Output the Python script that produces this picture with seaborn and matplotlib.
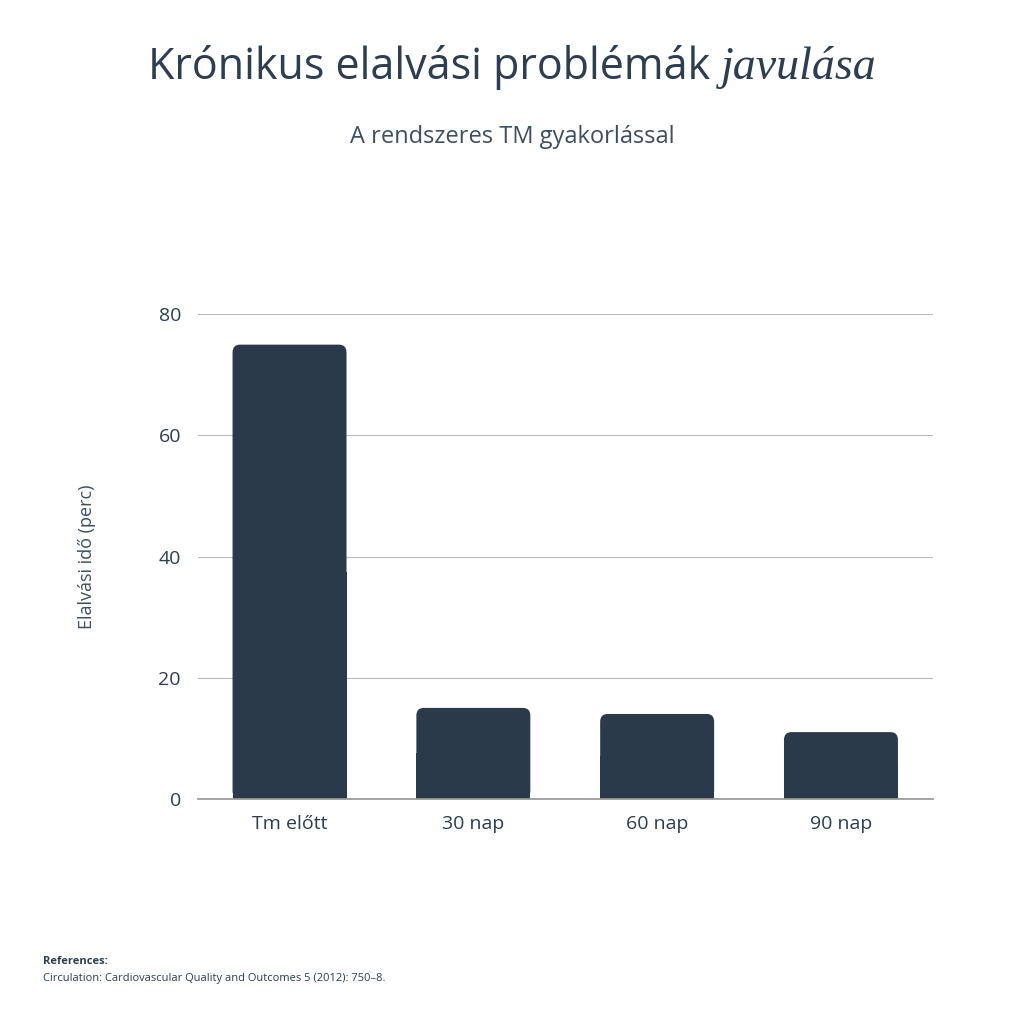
import matplotlib
matplotlib.use("Agg")
import matplotlib.pyplot as plt
import seaborn as sns
from matplotlib.patches import FancyBboxPatch

sns.set_theme(style="white")
plt.rcParams['font.family'] = ['Open Sans', 'DejaVu Sans']

categories = ["Tm előtt", "30 nap", "60 nap", "90 nap"]
values = [75, 15, 14, 11]
dark = "#2a3a4b"
textc = "#2c3e50"

fig = plt.figure(figsize=(10.24, 10.24), dpi=100)
ax = fig.add_axes([0.193, 0.22, 0.718, 0.473])
sns.barplot(x=categories, y=values, color=dark, width=0.62, saturation=1, ax=ax)

# rounded top corners
for p in list(ax.patches):
    x, y, w, h = p.get_x(), p.get_y(), p.get_width(), p.get_height()
    p.set_visible(False)
    r = FancyBboxPatch((x, y), w, h, boxstyle="round,pad=0,rounding_size=0.04",
                       mutation_aspect=80 / 4 * 1.6, fc=dark, ec="none")
    ax.add_patch(r)
    ax.add_patch(plt.Rectangle((x, y), w, h * 0.5, fc=dark, ec="none"))

ax.set_ylim(0, 80)
ax.set_yticks([0, 20, 40, 60, 80])
ax.yaxis.grid(True, color="#bbbbbb", lw=0.8)
ax.set_axisbelow(True)
for s in ["top", "right", "left"]:
    ax.spines[s].set_visible(False)
ax.spines["bottom"].set_color("#999999")
ax.tick_params(axis="both", labelsize=14, colors=textc, length=0, pad=12)
ax.set_ylabel("Elalvási idő (perc)", fontsize=13, color="#3d4f60", labelpad=45)

# title with italic serif word
t1 = fig.text(0, 0.923, "Krónikus elalvási problémák ", fontsize=31, color=textc, va="baseline")
t2 = fig.text(0, 0.923, "javulása", fontsize=33, color=textc, va="baseline",
              family="Liberation Serif", style="italic")
fig.canvas.draw()
r = fig.canvas.get_renderer()
w1 = t1.get_window_extent(r).width / fig.bbox.width
w2 = t2.get_window_extent(r).width / fig.bbox.width
x0 = 0.5 - (w1 + w2) / 2
t1.set_x(x0)
t2.set_x(x0 + w1)

fig.text(0.5, 0.86, "A rendszeres TM gyakorlással", fontsize=17, color="#3d4f60", ha="center")
fig.text(0.042, 0.059, "References:", fontsize=8, weight="bold", color=textc)
fig.text(0.042, 0.042, "Circulation: Cardiovascular Quality and Outcomes 5 (2012): 750–8.",
         fontsize=8, color=textc)

fig.savefig("out.png", dpi=100)
